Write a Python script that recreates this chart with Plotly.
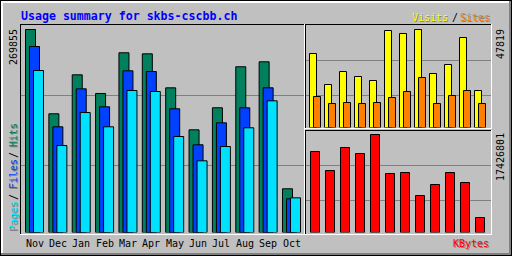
import plotly.graph_objects as go

months = ["Nov", "Dec", "Jan", "Feb", "Mar", "Apr", "May", "Jun", "Jul", "Aug", "Sep", "Oct"]
hits = [269855, 157800, 209600, 184800, 238900, 237500, 192300, 136500, 165800, 220300, 226900, 58100]
files = [247250, 140500, 191000, 167100, 214950, 214000, 164450, 116600, 145800, 165750, 192350, 44800]
pages = [215350, 115650, 159500, 140500, 188750, 187450, 127600, 95300, 114300, 139200, 175050, 46100]
visits = [36110, 20980, 27325, 24885, 22935, 47330, 45870, 47819, 26350, 30740, 43915, 18055]
sites = [15126, 11711, 12199, 11711, 12199, 14639, 17566, 24398, 11711, 15614, 18054, 11711]
kbytes = [14403744, 11025088, 15115040, 14048096, 17426801, 10491616, 10669440, 6579488, 8535552, 10669440, 8891200, 2667360]

W, H = 512, 256
def px(x): return x / W
def py(y): return 1 - y / H

GREY = "#C0C0C0"
DKGREY = "#808080"
C_HITS = "#00805C"
C_FILES = "#0040FF"
C_PAGES = "#00E0FF"
C_VISITS = "#FFFF00"
C_SITES = "#FF8000"
C_KB = "#FF0000"
FONT = "DejaVu Sans Mono"

fig = go.Figure()
ml = dict(color="black", width=1)
u1 = 23.36
fig.add_bar(x=months, y=hits, marker=dict(color=C_HITS, line=ml), width=10/u1, offset=-9/u1, xaxis="x", yaxis="y")
fig.add_bar(x=months, y=files, marker=dict(color=C_FILES, line=ml), width=10/u1, offset=-5/u1, xaxis="x", yaxis="y")
fig.add_bar(x=months, y=pages, marker=dict(color=C_PAGES, line=ml), width=10/u1, offset=-1/u1, xaxis="x", yaxis="y")
u2 = 15.0
fig.add_bar(x=months, y=visits, marker=dict(color=C_VISITS, line=ml), width=7/u2, offset=-5.5/u2, xaxis="x2", yaxis="y2")
fig.add_bar(x=months, y=sites, marker=dict(color=C_SITES, line=ml), width=7/u2, offset=-1.5/u2, xaxis="x2", yaxis="y2")
fig.add_bar(x=months, y=kbytes, marker=dict(color=C_KB, line=ml), width=9/u2, offset=-4.5/u2, xaxis="x3", yaxis="y3")

hidden = dict(visible=False, fixedrange=True)
fig.update_layout(
    width=W, height=H, margin=dict(l=0, r=0, t=0, b=0),
    paper_bgcolor=GREY, plot_bgcolor="rgba(0,0,0,0)",
    showlegend=False, barmode="overlay",
    xaxis=dict(domain=[px(22.82), px(303.18)], type="category", range=[-0.5, 11.5], **hidden),
    yaxis=dict(domain=[py(232.5), py(25)], range=[0, max(hits) * 207.5 / 203], **hidden),
    xaxis2=dict(domain=[px(307.5), px(487.5)], type="category", range=[-0.5, 11.5], **hidden),
    yaxis2=dict(domain=[py(127.5), py(25)], range=[0, max(visits) * 102.5 / 98], **hidden),
    xaxis3=dict(domain=[px(307.5), px(487.5)], type="category", range=[-0.5, 11.5], **hidden),
    yaxis3=dict(domain=[py(232.5), py(130)], range=[0, max(kbytes) * 102.5 / 98], **hidden),
)

shapes = []
def hline(y, x0, x1, color):
    shapes.append(dict(type="line", xref="paper", yref="paper", x0=px(x0), x1=px(x1 + 1),
                       y0=py(y + 0.5), y1=py(y + 0.5), line=dict(color=color, width=1), layer="below"))
def vline(x, y0, y1, color):
    shapes.append(dict(type="line", xref="paper", yref="paper", x0=px(x + 0.5), x1=px(x + 0.5),
                       y0=py(y0), y1=py(y1 + 1), line=dict(color=color, width=1), layer="below"))

# outer frame
for r in (1, 2):
    hline(r, 1, 510, "white"); vline(r, 1, 254, "white")
for r in (253, 254):
    hline(r, 1, 510, DKGREY); vline(r + 256, 1, 254, DKGREY)
hline(0, 0, 511, "black"); hline(255, 0, 511, "black")
vline(0, 0, 255, "black"); vline(511, 0, 255, "black")

# panels
def panel(x0, y0, x1, y1):
    hline(y0, x0, x1, "black"); vline(x0, y0, y1, "black")
    hline(y1, x0, x1, "white"); vline(x1, y0, y1, "white")
panel(20, 24, 304, 234)
panel(305, 24, 491, 128)
panel(305, 130, 491, 234)

# grid lines
for g in (95, 165):
    hline(g, 21, 303, DKGREY)
for g in (60, 95):
    hline(g, 306, 490, DKGREY)
for g in (165, 200):
    hline(g, 306, 490, DKGREY)
fig.update_layout(shapes=shapes)

ann = []
def text(t, x, y, color, size=10, angle=0, xa="center", ya="middle", bold=False, shadow=False):
    s = f"<b>{t}</b>" if bold else t
    if shadow:
        ann.append(dict(text=s, x=px(x + 1), y=py(y + 1), xref="paper", yref="paper", showarrow=False,
                        font=dict(family=FONT, size=size, color=DKGREY), textangle=angle,
                        xanchor=xa, yanchor=ya, borderpad=0))
    ann.append(dict(text=s, x=px(x), y=py(y), xref="paper", yref="paper", showarrow=False,
                    font=dict(family=FONT, size=size, color=color), textangle=angle,
                    xanchor=xa, yanchor=ya, borderpad=0))

text("Usage summary for skbs-cscbb.ch", 20, 15.5, "#0000FF", size=11.6, xa="left", bold=True)
text(str(max(hits)), 13, 28, "black", angle=-90, ya="top")
text(str(max(visits)), 500, 28, "black", angle=-90, ya="top")
text(str(max(kbytes)), 500, 132, "black", angle=-90, ya="top")
text("Pages", 13, 232, C_PAGES, angle=-90, ya="bottom", shadow=True)
text("/", 13, 201, "black", angle=-90, ya="bottom")
text("Files", 13, 190, C_FILES, angle=-90, ya="bottom", shadow=True)
text("/", 13, 159, "black", angle=-90, ya="bottom")
text("Hits", 13, 148, C_HITS, angle=-90, ya="bottom", shadow=True)
text("Visits", 411, 17, C_VISITS, xa="left", shadow=True)
text("/", 450.5, 17, "black", xa="left")
text("Sites", 459, 17, C_SITES, xa="left", shadow=True)
text("KBytes", 490, 243.5, C_KB, xa="right", shadow=True)

for m in months:
    ann.append(dict(text=m, x=m, y=py(243), xref="x", yref="paper", showarrow=False,
                    font=dict(family=FONT, size=10, color="black"), xanchor="center", yanchor="middle"))
fig.update_layout(annotations=ann)

fig.write_html("out.html")
